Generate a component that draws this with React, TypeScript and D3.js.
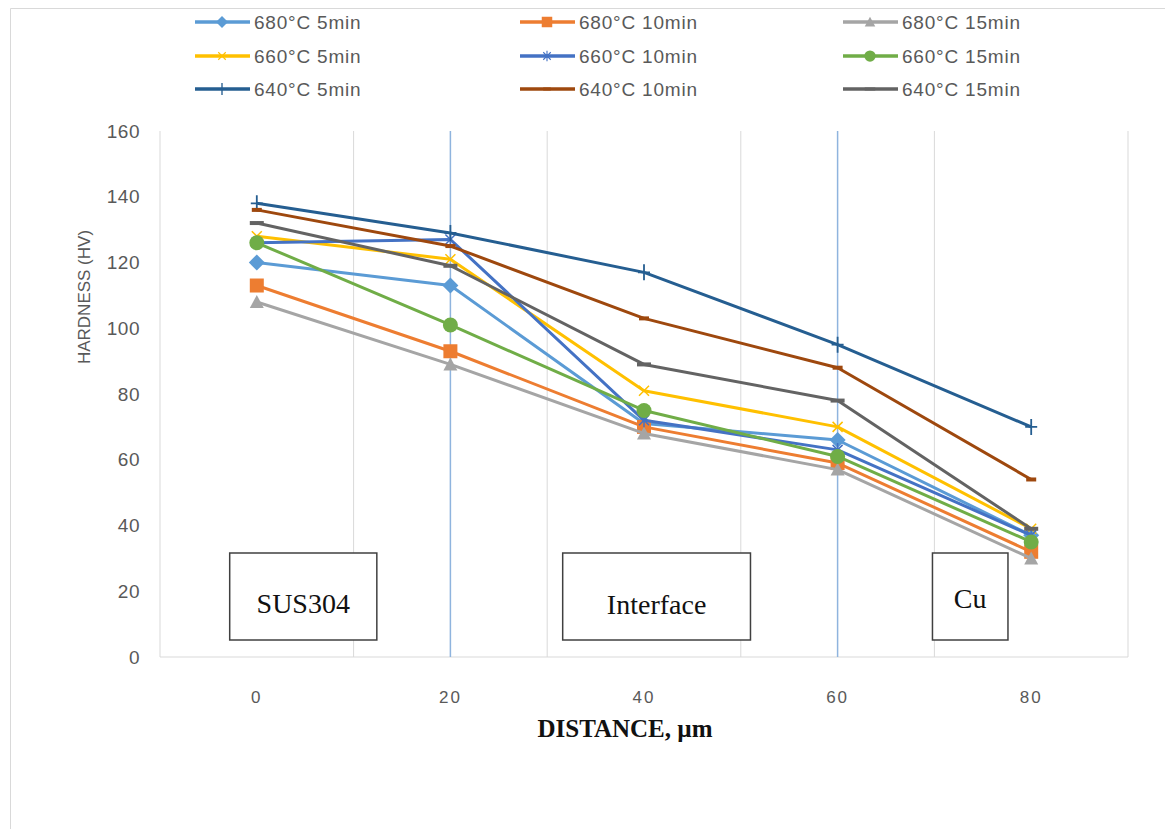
import React, { useEffect, useRef } from 'react';
import * as d3 from 'd3';

// distance from the SUS304 side, µm
const distances = [0, 20, 40, 60, 80];

const seriesNames = [
    '680°C 5min', '680°C 10min', '680°C 15min',
    '660°C 5min', '660°C 10min', '660°C 15min',
    '640°C 5min', '640°C 10min', '640°C 15min',
];

// hardness (HV) for each series, read at 0, 20, 40, 60, 80 µm
const h680_5 = [120, 113, 71, 66, 37];
const h680_10 = [113, 93, 70, 59, 32];
const h680_15 = [108, 89, 68, 57, 30];
const h660_5 = [128, 121, 81, 70, 39];
const h660_10 = [126, 127, 72, 63, 37];
const h660_15 = [126, 101, 75, 61, 35];
const h640_5 = [138, 129, 117, 95, 70];
const h640_10 = [136, 125, 103, 88, 54];
const h640_15 = [132, 119, 89, 78, 39];

const seriesValues = [h680_5, h680_10, h680_15, h660_5, h660_10, h660_15, h640_5, h640_10, h640_15];

const yTicks = [0, 20, 40, 60, 80, 100, 120, 140, 160];
const xTicks = [0, 20, 40, 60, 80];
const gridX = [10, 30, 50, 70, 90];
const zoneLines = [20, 60];
const regionLabels = ['SUS304', 'Interface', 'Cu'];

const colors = ['#5B9BD5', '#ED7D31', '#A5A5A5', '#FFC000', '#4472C4', '#70AD47', '#255E91', '#9E480E', '#636363'];
const markers = ['diamond', 'square', 'triangle', 'x', 'star', 'circle', 'plus', 'dash', 'longdash'];

const W = 1165;
const H = 829;

const drawMarker = (g, kind, cx, cy, color, k = 1) => {
    const m = g.append('g').attr('transform', `translate(${cx},${cy}) scale(${k})`);
    if (kind === 'diamond') {
        m.append('path').attr('d', 'M0,-8L8,0L0,8L-8,0Z').attr('fill', color);
    } else if (kind === 'square') {
        m.append('rect').attr('x', -7).attr('y', -7).attr('width', 14).attr('height', 14).attr('fill', color);
    } else if (kind === 'triangle') {
        m.append('path').attr('d', 'M0,-7L7,6L-7,6Z').attr('fill', color);
    } else if (kind === 'circle') {
        m.append('circle').attr('r', 7.5).attr('fill', color);
    } else if (kind === 'x') {
        m.append('path').attr('d', 'M-5,-5L5,5M-5,5L5,-5').attr('stroke', color).attr('stroke-width', 1.5);
    } else if (kind === 'star') {
        m.append('path').attr('d', 'M-5,-5L5,5M-5,5L5,-5M0,-7L0,7').attr('stroke', color).attr('stroke-width', 1.5);
    } else if (kind === 'plus') {
        m.append('path').attr('d', 'M0,-8L0,8M-6,0L6,0').attr('stroke', color).attr('stroke-width', 1.8);
    } else if (kind === 'dash') {
        m.append('rect').attr('x', -5).attr('y', -2).attr('width', 10).attr('height', 4).attr('fill', color);
    } else if (kind === 'longdash') {
        m.append('rect').attr('x', -7).attr('y', -2).attr('width', 14).attr('height', 4).attr('fill', color);
    }
};

const HardnessChart = () => {
    const ref = useRef(null);

    useEffect(() => {
        document.body.style.margin = '0';
        const svg = d3.select(ref.current);
        svg.selectAll('*').remove();

        const x = d3.scaleLinear().domain([-10, 90]).range([160, 1128]);
        const y = d3.scaleLinear().domain([0, 160]).range([657, 131]);
        const sans = 'Liberation Sans, Arial, sans-serif';
        const serif = 'Liberation Serif, Times New Roman, serif';
        const grey = '#595959';

        svg.append('rect').attr('width', W).attr('height', H).attr('fill', 'white');
        // outer chart frame
        svg.append('path').attr('d', `M10.5,${H}V8.5H${W}`).attr('fill', 'none').attr('stroke', '#d9d9d9');

        // vertical gridlines
        svg.append('g').selectAll('line').data(gridX).join('line')
            .attr('x1', d => x(d)).attr('x2', d => x(d))
            .attr('y1', y(160)).attr('y2', y(0))
            .attr('stroke', '#d9d9d9').attr('stroke-width', 1);

        // axes lines
        svg.append('line').attr('x1', x(-10)).attr('x2', x(-10)).attr('y1', y(160)).attr('y2', y(0))
            .attr('stroke', '#d9d9d9');
        svg.append('line').attr('x1', x(-10)).attr('x2', x(90)).attr('y1', y(0)).attr('y2', y(0))
            .attr('stroke', '#d9d9d9');

        // zone separators
        svg.append('g').selectAll('line').data(zoneLines).join('line')
            .attr('x1', d => x(d)).attr('x2', d => x(d))
            .attr('y1', y(160)).attr('y2', y(0))
            .attr('stroke', '#8FB4DE').attr('stroke-width', 1.5);

        // y ticks
        svg.append('g').selectAll('text').data(yTicks).join('text')
            .attr('x', 140).attr('y', d => y(d)).attr('dy', '0.35em')
            .attr('text-anchor', 'end')
            .style('font', `19px ${sans}`).style('letter-spacing', '0.5px')
            .attr('fill', grey)
            .text(d => d);

        // x ticks
        svg.append('g').selectAll('text').data(xTicks).join('text')
            .attr('x', d => x(d)).attr('y', 697).attr('dy', '0.35em')
            .attr('text-anchor', 'middle')
            .style('font', `17px ${sans}`).style('letter-spacing', '2px')
            .attr('fill', grey)
            .text(d => d);

        // axis titles
        svg.append('text')
            .attr('transform', 'translate(84,297) rotate(-90)')
            .attr('text-anchor', 'middle').attr('dy', '0.35em')
            .style('font', `17px ${sans}`)
            .attr('fill', grey)
            .text('HARDNESS (HV)');
        svg.append('text')
            .attr('x', 625).attr('y', 728).attr('dy', '0.35em')
            .attr('text-anchor', 'middle')
            .style('font', `bold 25px ${serif}`)
            .attr('fill', '#111')
            .text('DISTANCE, µm');

        // series
        const line = d3.line().x((d, i) => x(distances[i])).y(d => y(d));
        seriesValues.forEach((vals, s) => {
            const g = svg.append('g');
            g.append('path').datum(vals).attr('d', line)
                .attr('fill', 'none').attr('stroke', colors[s]).attr('stroke-width', 3)
                .attr('stroke-linejoin', 'round');
            vals.forEach((v, i) => drawMarker(g, markers[s], x(distances[i]), y(v), colors[s]));
        });

        // region boxes [x0, x1] in distance units
        const boxes = [[-2.8, 12.4], [31.6, 51.0], [69.8, 77.6]];
        const boxTextY = [603, 604, 598];
        boxes.forEach((b, i) => {
            svg.append('rect')
                .attr('x', x(b[0])).attr('y', 553)
                .attr('width', x(b[1]) - x(b[0])).attr('height', 87)
                .attr('fill', 'white').attr('stroke', '#404040').attr('stroke-width', 1.5);
            svg.append('text')
                .attr('x', (x(b[0]) + x(b[1])) / 2).attr('y', boxTextY[i]).attr('dy', '0.35em')
                .attr('text-anchor', 'middle')
                .style('font', `28px ${serif}`)
                .attr('fill', '#111')
                .text(regionLabels[i]);
        });

        // legend, 3 columns x 3 rows
        const colX = [195, 520, 843];
        const rowY = [22, 56, 89];
        seriesNames.forEach((name, s) => {
            const lx = colX[s % 3];
            const ly = rowY[Math.floor(s / 3)];
            const g = svg.append('g');
            g.append('line').attr('x1', lx).attr('x2', lx + 55).attr('y1', ly).attr('y2', ly)
                .attr('stroke', colors[s]).attr('stroke-width', 3.5);
            drawMarker(g, markers[s], lx + 27, ly, colors[s], 0.75);
            g.append('text').attr('x', lx + 59).attr('y', ly).attr('dy', '0.35em')
                .style('font', `19px ${sans}`).style('letter-spacing', '0.8px')
                .attr('fill', grey)
                .text(name);
        });
    }, []);

    return <svg ref={ref} width={W} height={H} style={{ display: 'block' }}></svg>;
};

export default function App() {
    return <HardnessChart />;
}
